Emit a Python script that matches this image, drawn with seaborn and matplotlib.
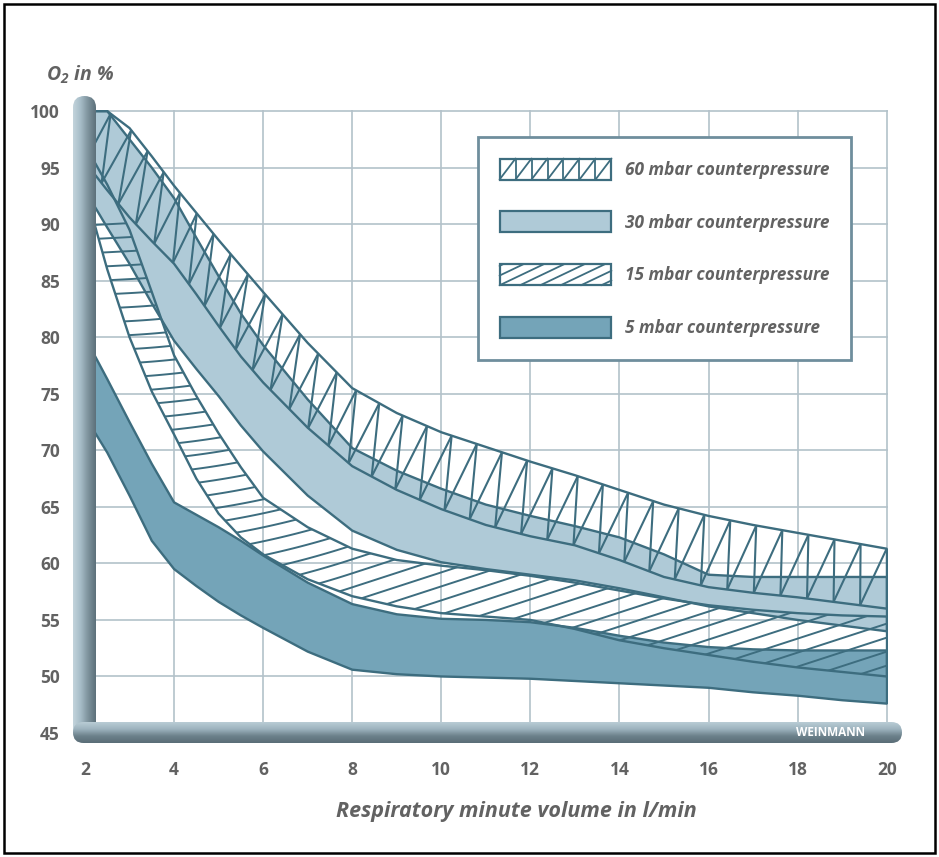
import numpy as np
import pandas as pd
import matplotlib
matplotlib.use("Agg")
import matplotlib.pyplot as plt
import seaborn as sns
from matplotlib.patches import Rectangle, FancyBboxPatch, Patch, Polygon
from matplotlib.collections import LineCollection
from matplotlib.legend_handler import HandlerBase
from matplotlib.lines import Line2D
from matplotlib.colors import LinearSegmentedColormap
from matplotlib.font_manager import FontProperties

# Respiratory minute volume (l/min) at which the band limits are given
volume = [2, 2.5, 3, 3.5, 4, 4.5, 5, 5.5, 6, 7, 8, 9, 10, 11, 12, 13, 14, 15, 16, 17, 18, 19, 20]

# O2 concentration (%) limits for each counterpressure
o2_60_hi = [100, 100, 98.5, 96.0, 93.4, 91.0, 88.6, 86.3, 84.0, 79.5, 75.5, 73.3, 71.6, 70.3, 69.0, 67.8, 66.5, 65.2, 64.2, 63.4, 62.7, 62.0, 61.3]
o2_60_lo = [95.5, 93.0, 90.6, 88.5, 86.5, 83.8, 81.0, 78.3, 76.0, 72.0, 68.6, 66.5, 64.8, 63.4, 62.4, 61.6, 60.3, 58.8, 57.9, 57.4, 57.0, 56.5, 56.0]
o2_30_hi = [100, 100, 97.5, 95.0, 92.3, 88.8, 85.4, 82.1, 79.3, 74.5, 70.2, 68.2, 66.6, 65.2, 64.2, 63.3, 62.3, 60.8, 59.0, 58.8, 58.8, 58.8, 58.8]
o2_30_lo = [93.0, 89.7, 86.5, 83.0, 79.7, 77.2, 74.8, 72.2, 69.9, 66.0, 62.9, 61.2, 60.1, 59.5, 59.0, 58.5, 57.8, 57.0, 56.2, 55.6, 55.0, 54.5, 54.0]
o2_15_hi = [97.0, 93.5, 89.5, 84.0, 78.4, 74.8, 71.5, 68.5, 65.8, 63.2, 61.3, 60.3, 59.8, 59.4, 58.9, 58.3, 57.6, 56.9, 56.3, 55.9, 55.6, 55.4, 55.3]
o2_15_lo = [93.0, 86.0, 80.0, 75.2, 71.4, 67.5, 64.4, 62.3, 60.8, 58.6, 57.1, 56.2, 55.6, 55.3, 55.0, 54.2, 53.2, 52.5, 51.9, 51.3, 50.8, 50.4, 50.0]
o2_5_hi = [80.0, 76.3, 72.5, 68.8, 65.4, 64.3, 63.2, 62.0, 60.7, 58.3, 56.4, 55.5, 55.1, 55.0, 54.8, 54.3, 53.6, 53.0, 52.6, 52.4, 52.3, 52.3, 52.3]
o2_5_lo = [73.0, 69.8, 66.0, 62.0, 59.5, 58.0, 56.6, 55.4, 54.3, 52.2, 50.6, 50.2, 50.0, 49.9, 49.8, 49.6, 49.4, 49.2, 49.0, 48.6, 48.3, 47.9, 47.6]

legend_labels = ["60 mbar counterpressure", "30 mbar counterpressure",
                 "15 mbar counterpressure", "5 mbar counterpressure"]
x_ticks = [2, 4, 6, 8, 10, 12, 14, 16, 18, 20]
y_ticks = [45, 50, 55, 60, 65, 70, 75, 80, 85, 90, 95, 100]

EDGE = "#3d6d7f"
DARK_FILL = "#74a4b8"
LIGHT_FILL = "#afcad7"
GRID = "#b3c2ca"
TEXT = "#626262"

W, H = 939, 857
sns.set_theme(style="white")
plt.rcParams["font.family"] = ["Open Sans", "DejaVu Sans"]
plt.rcParams["mathtext.fontset"] = "custom"
plt.rcParams["mathtext.bf"] = "Open Sans:italic:bold"
plt.rcParams["mathtext.rm"] = "Open Sans:italic:bold"
plt.rcParams["mathtext.it"] = "Open Sans:italic:bold"

fig = plt.figure(figsize=(W / 100, H / 100), dpi=100, facecolor="white")
ax = fig.add_axes([85 / W, 1 - 733 / H, (888 - 85) / W, (733 - 110) / H])
ax.set_facecolor("white")
ax.set_xlim(2, 20.03)
ax.set_ylim(45, 100.1)

# pixel size of one data unit, used to lay hatching out evenly on screen
SX = ax.get_position().width * W / (20.03 - 2)
SY = ax.get_position().height * H / (100.1 - 45)

# filled bands
ax.fill_between(volume, o2_5_lo, o2_5_hi, color=DARK_FILL, lw=0, zorder=1)
ax.fill_between(volume, o2_30_lo, o2_30_hi, color=LIGHT_FILL, lw=0, zorder=1.5)

# band outlines via seaborn
curves = {"60 hi": o2_60_hi, "60 lo": o2_60_lo, "30 hi": o2_30_hi, "30 lo": o2_30_lo,
          "15 hi": o2_15_hi, "15 lo": o2_15_lo, "5 hi": o2_5_hi, "5 lo": o2_5_lo}
df = pd.DataFrame([(k, x, y) for k, ys in curves.items() for x, y in zip(volume, ys)],
                  columns=["curve", "volume", "o2"])
sns.lineplot(data=df, x="volume", y="o2", units="curve", estimator=None, sort=False,
             color=EDGE, lw=1.7, ax=ax, zorder=3)
for lo, hi in [(o2_60_lo, o2_60_hi), (o2_30_lo, o2_30_hi), (o2_15_lo, o2_15_hi), (o2_5_lo, o2_5_hi)]:
    ax.plot([volume[-1], volume[-1]], [lo[-1], hi[-1]], color=EDGE, lw=1.7, zorder=3,
            solid_capstyle="butt")


def arc(ys):
    xs = np.asarray(volume, float)
    ys = np.asarray(ys, float)
    d = np.hypot(np.diff(xs) * SX, np.diff(ys) * SY)
    return xs, ys, np.concatenate([[0], np.cumsum(d)])


def point_at(curve, frac):
    xs, ys, s = curve
    t = np.clip(frac, 0, 1) * s[-1]
    return np.interp(t, s, xs), np.interp(t, s, ys)


def truss(lo, hi, spacing):
    cl, ch = arc(lo), arc(hi)
    length = 0.5 * (cl[2][-1] + ch[2][-1])
    n = int(round(length / spacing))
    f = np.linspace(0, 1, n + 1)
    lx, ly = point_at(cl, f)
    hx, hy = point_at(ch, f)
    segs = [[(lx[i], ly[i]), (hx[i], hy[i])] for i in range(n + 1)]
    segs += [[(lx[i], ly[i]), (hx[i + 1], hy[i + 1])] for i in range(n)]
    return segs


def band_patch(lo, hi):
    pts = list(zip(volume, lo)) + list(zip(volume[::-1], hi[::-1]))
    return Polygon(pts, closed=True, transform=ax.transData, facecolor="none", edgecolor="none")


def slanted(gap_px):
    # family of parallel curves whose screen angle grows from near flat to ~18 deg
    xs = np.linspace(2, 20, 400)
    ang = np.radians(3 + 15 * np.clip((xs - 3) / 5, 0, 1))
    rise = np.concatenate([[0], np.cumsum(np.tan(ang[1:]) * np.diff(xs) * SX)]) / SY
    base = np.arange(20, 110, gap_px / SY)
    return [np.column_stack([xs, b + rise]) for b in base - rise.max()]


# 60 mbar: truss hatching following the band
lc60 = LineCollection(truss(o2_60_lo, o2_60_hi, 26.5), colors=EDGE, linewidths=1.5, zorder=3)
ax.add_collection(lc60)

# 15 mbar: shallow slanted hatching clipped to the band
p15 = band_patch(o2_15_lo, o2_15_hi)
ax.add_patch(p15)
lc15 = LineCollection(slanted(14), colors=EDGE, linewidths=1.4, zorder=3)
ax.add_collection(lc15)
lc15.set_clip_path(p15)

# axes styling
ax.set_xticks(x_ticks)
ax.set_yticks(y_ticks)
ax.grid(True, color=GRID, lw=1.2, zorder=0)
ax.set_axisbelow(True)
for sp in ax.spines.values():
    sp.set_visible(False)
ax.tick_params(length=0, labelsize=12.5, labelcolor=TEXT)
ax.tick_params(axis="y", pad=18)
ax.tick_params(axis="x", pad=20)
for lab in ax.get_xticklabels() + ax.get_yticklabels():
    lab.set_fontweight("bold")
ax.set_xlabel("")
ax.set_ylabel("")


# legend keys
def clip_segment(x0, y0, x1, y1, xmin, xmax, ymin, ymax):
    t0, t1 = 0.0, 1.0
    dx, dy = x1 - x0, y1 - y0
    for p, q in ((-dx, x0 - xmin), (dx, xmax - x0), (-dy, y0 - ymin), (dy, ymax - y0)):
        if p == 0:
            if q < 0:
                return None
            continue
        r = q / p
        if p < 0:
            t0 = max(t0, r)
        else:
            t1 = min(t1, r)
    if t0 > t1:
        return None
    return (x0 + t0 * dx, y0 + t0 * dy, x0 + t1 * dx, y0 + t1 * dy)


class BandKey(HandlerBase):
    def __init__(self, face, pattern=None):
        super().__init__()
        self.face = face
        self.pattern = pattern

    def create_artists(self, legend, orig_handle, xdescent, ydescent, width, height, fontsize, trans):
        x0, y0 = -xdescent, -ydescent
        arts = [Rectangle((x0, y0), width, height, facecolor=self.face, edgecolor=EDGE,
                          lw=1.6, transform=trans)]
        if self.pattern == "truss":
            n = 7
            xs = np.linspace(x0, x0 + width, n + 1)
            for i in range(n):
                arts.append(Line2D([xs[i], xs[i + 1]], [y0, y0 + height], color=EDGE, lw=1.3, transform=trans))
                if i > 0:
                    arts.append(Line2D([xs[i], xs[i]], [y0, y0 + height], color=EDGE, lw=1.3, transform=trans))
        elif self.pattern == "slant":
            step = width / 5.5
            run = height * 2.1
            for k in range(-4, 8):
                xa = x0 + k * step
                seg = clip_segment(xa, y0, xa + run, y0 + height, x0, x0 + width, y0, y0 + height)
                if seg:
                    arts.append(Line2D([seg[0], seg[2]], [seg[1], seg[3]], color=EDGE, lw=1.3, transform=trans))
        return arts


h60, h30, h15, h5 = Patch(), Patch(), Patch(), Patch()
leg_font = FontProperties(family="Open Sans", style="italic", weight="bold", size=12.4)
leg = ax.legend([h60, h30, h15, h5], legend_labels,
                handler_map={h60: BandKey("white", "truss"), h30: BandKey(LIGHT_FILL),
                             h15: BandKey("white", "slant"), h5: BandKey(DARK_FILL)},
                loc="upper left", bbox_to_anchor=(478 / W, 1 - 137 / H), bbox_transform=fig.transFigure,
                borderaxespad=0, prop=leg_font, labelcolor=TEXT, handlelength=6.5, handleheight=1.5,
                labelspacing=1.85, borderpad=1.25, handletextpad=0.8, frameon=True, fancybox=False,
                framealpha=1)
leg.get_frame().set_edgecolor("#6f8e9d")
leg.get_frame().set_linewidth(2)
leg.set_zorder(8)

# decorative overlay in pixel space: rounded axis bars, titles, border
deco = fig.add_axes([0, 0, 1, 1], zorder=5)
deco.set_xlim(0, W)
deco.set_ylim(H, 0)
deco.axis("off")
deco.patch.set_alpha(0)

left_cmap = LinearSegmentedColormap.from_list("lb", ["#c3d4dc", "#a6bcc7", "#7d929c", "#5d717b"])
bottom_cmap = LinearSegmentedColormap.from_list("bb", ["#b9ccd5", "#9db3be", "#6c818b", "#5a6d77"])

bar_l = FancyBboxPatch((73, 96), 23, 644, boxstyle="round,pad=0,rounding_size=11.5",
                       facecolor="none", edgecolor="none")
deco.add_patch(bar_l)
im = deco.imshow(np.linspace(0, 1, 64)[None, :], extent=(73, 96, 740, 96), cmap=left_cmap,
                 aspect="auto", interpolation="bilinear", zorder=6)
im.set_clip_path(bar_l)

bar_b = FancyBboxPatch((73, 722), 829, 21, boxstyle="round,pad=0,rounding_size=10.5",
                       facecolor="none", edgecolor="none")
deco.add_patch(bar_b)
im2 = deco.imshow(np.linspace(0, 1, 64)[:, None], extent=(73, 902, 743, 722), cmap=bottom_cmap,
                  aspect="auto", interpolation="bilinear", origin="upper", zorder=6)
im2.set_clip_path(bar_b)

deco.text(830, 733, "WEINMANN", color="white", fontsize=8.5, fontweight="bold",
          ha="center", va="center", zorder=7)

deco.text(46, 75, r"$\mathbf{O_2}$ in %", color=TEXT, fontsize=14, fontweight="bold",
          fontstyle="italic", ha="left", va="center", zorder=7)
deco.text(516, 812, "Respiratory minute volume in l/min", color=TEXT, fontsize=15.5,
          fontweight="bold", fontstyle="italic", ha="center", va="center", zorder=7)

deco.add_patch(Rectangle((4, 4), 931, 849, fill=False, edgecolor="black", lw=1.8, zorder=7))

fig.savefig("out.png", dpi=100, facecolor="white")
